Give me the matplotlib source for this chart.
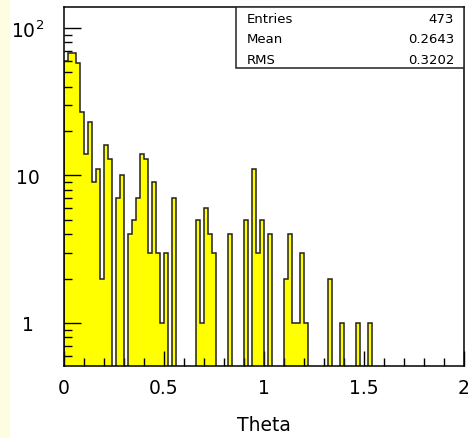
import numpy as np
import matplotlib.pyplot as plt
from matplotlib.patches import Rectangle
from matplotlib.ticker import LogLocator, MultipleLocator, NullFormatter

# histogram of Theta, 100 bins from 0 to 2
bin_edges = np.linspace(0, 2, 101)
counts = [60, 68, 68, 58, 27, 14, 23, 9, 11, 2,
          16, 13, 0, 7, 10, 0, 4, 5, 7, 14,
          13, 3, 9, 3, 1, 3, 0, 7, 0, 0,
          0, 0, 0, 5, 1, 6, 4, 3, 0, 0,
          0, 4, 0, 0, 0, 5, 0, 11, 3, 5,
          0, 4, 0, 0, 0, 2, 4, 1, 1, 3,
          1, 0, 0, 0, 0, 0, 2, 0, 0, 1,
          0, 0, 0, 1, 0, 0, 1, 0, 0, 0,
          0, 0, 0, 0, 0, 0, 0, 0, 0, 0,
          0, 0, 0, 0, 0, 0, 0, 0, 0, 0]

stat_names = ["Entries", "Mean", "RMS"]
stat_values = ["473", "0.2643", "0.3202"]

xticks = [0, 0.5, 1, 1.5, 2]
xtick_labels = ["0", "0.5", "1", "1.5", "2"]
yticks = [1, 10, 100]
ytick_labels = ["1", "10", r"$\mathregular{10^{2}}$"]

fig = plt.figure(figsize=(4.73, 4.39), dpi=100, facecolor="white")
# pale strip on the left of the canvas
fig.patches.append(Rectangle((0, 0), 10 / 473, 1, transform=fig.transFigure,
                             facecolor="#fffde1", edgecolor="none", zorder=0))

ax = fig.add_axes([64 / 473, 72 / 439, 400 / 473, 359 / 439])
ax.set_yscale("log", nonpositive="clip")

ax.stairs(counts, bin_edges, baseline=0, fill=True, facecolor="#ffff00",
          edgecolor="none", zorder=1)
ax.stairs(counts, bin_edges, baseline=0, color="#222222", linewidth=1.1,
          zorder=2)

ax.set_xlim(0, 2)
ax.set_ylim(0.51, 139)

for sp in ax.spines.values():
    sp.set_linewidth(1.1)
    sp.set_zorder(3)

ax.set_xticks(xticks, labels=xtick_labels)
ax.xaxis.set_minor_locator(MultipleLocator(0.1))
ax.set_yticks(yticks, labels=ytick_labels)
ax.yaxis.set_minor_locator(LogLocator(base=10, subs=np.arange(2, 10)))
ax.yaxis.set_minor_formatter(NullFormatter())

ax.tick_params(axis="x", which="major", direction="in", length=11, width=1,
               labelsize=13.5, pad=9)
ax.tick_params(axis="x", which="minor", direction="in", length=5.5, width=1)
ax.tick_params(axis="y", which="major", direction="in", length=12, width=1,
               labelsize=13.5, pad=26)
ax.tick_params(axis="y", which="minor", direction="in", length=5.5, width=1)
for lab in ax.get_yticklabels():
    lab.set_horizontalalignment("center")

ax.set_xlabel("Theta", fontsize=13.5, va="center")
ax.xaxis.set_label_coords(0.5, -0.164)

# stats box
ax.add_patch(Rectangle((0.43, 0.830), 0.57, 0.170, transform=ax.transAxes,
                       facecolor="white", edgecolor="#222222", linewidth=1.1,
                       zorder=4))
rows_y = [0.969, 0.911, 0.855]
for name, val, yy in zip(stat_names, stat_values, rows_y):
    ax.text(0.457, yy, name, transform=ax.transAxes, fontsize=9.5,
            ha="left", va="center", zorder=5)
    ax.text(0.975, yy, val, transform=ax.transAxes, fontsize=9.5,
            ha="right", va="center", zorder=5)

fig.savefig("out.png", dpi=100)
